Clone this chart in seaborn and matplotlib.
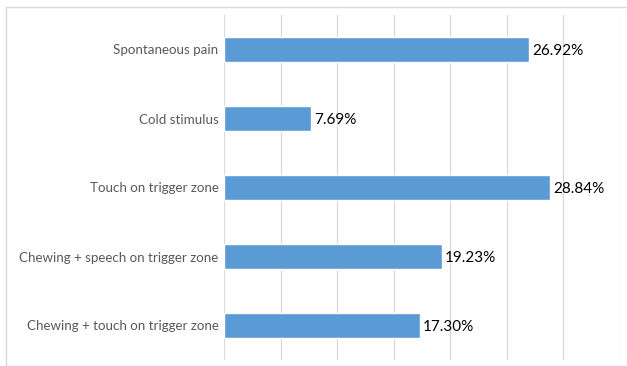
import matplotlib
matplotlib.use("Agg")
import matplotlib.pyplot as plt
import seaborn as sns
import pandas as pd
from matplotlib.patches import Rectangle

categories = ["Spontaneous pain", "Cold stimulus", "Touch on trigger zone",
              "Chewing + speech on trigger zone", "Chewing + touch on trigger zone"]
values = [26.92, 7.69, 28.84, 19.23, 17.30]
labels = ["26.92%", "7.69%", "28.84%", "19.23%", "17.30%"]

df = pd.DataFrame({"cat": categories, "val": values})

sns.set_theme(style="white")
plt.rcParams['font.family'] = ['Lato', 'DejaVu Sans']

W, H = 627, 366
fig = plt.figure(figsize=(W/100, H/100), dpi=100)
ax = fig.add_axes([224/W, 1 - 360/H, (620-224)/W, (360-15)/H])

sns.barplot(data=df, x="val", y="cat", orient="h", color="#5B9BD5",
            saturation=1, width=0.35, ax=ax)

ax.set_xlim(0, 35)
ax.set_ylim(4.5, -0.5)
ax.set_xticks(range(0, 36, 5))
ax.xaxis.grid(True, color="#D9D9D9", linewidth=0.9)
ax.set_axisbelow(True)
ax.tick_params(axis="x", labelbottom=False, length=0)
ax.tick_params(axis="y", length=0, labelsize=9.6, labelcolor="#595959", pad=4)
ax.set_xlabel("")
ax.set_ylabel("")
for s in ax.spines.values():
    s.set_visible(False)

for i, (v, t) in enumerate(zip(values, labels)):
    ax.text(v + 0.3, i + 0.02, t, va="center", ha="left", fontsize=11, color="#000000")

fig.patches.append(Rectangle((6/W, 0), 1.5, 1 - 7/H, transform=fig.transFigure,
                             fill=False, edgecolor="#D9D9D9", linewidth=1))

fig.savefig("out.png", dpi=100, facecolor="white")
